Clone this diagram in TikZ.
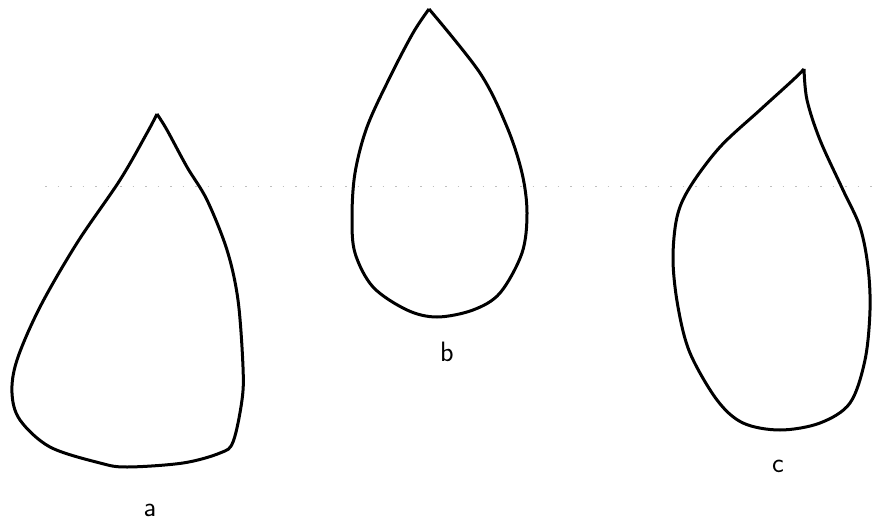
\documentclass[tikz,border=0pt]{standalone}
\usepackage{tikz}

\begin{document}
\begin{tikzpicture}[x=1pt,y=-1pt,line join=round,
  drop/.style={line width=3pt},
  lbl/.style={font=\fontsize{28}{32}\sffamily}]
  \useasboundingbox (0,0) rectangle (874,529);
  % linia de referencia (puntejada)
  \draw[gray!50,line width=0.7pt,dash pattern=on 1.5pt off 11pt] (45,186) -- (874,186);
  % Gota a
  \draw[drop] plot[smooth,tension=0.55] coordinates {(157,114) (147,133) (120,180) (77,243) (40,307) (17,360)
    (12,393) (20,420) (50,447) (100,463) (127,467) (183,463) (220,453) (233,442)
    (242,400) (243,367) (238,300) (227,250) (207,200) (187,167) (167,130) (157,114)};
  % Gota b
  \draw[drop] plot[smooth,tension=0.55] coordinates {(429,9) (480,73) (507,127) (522,173) (527,213)
    (522,253) (500,293) (473,310) (437,317) (407,310) (373,287) (355,253) (352,217)
    (355,173) (367,127) (390,77) (413,33) (429,9)};
  % Gota c
  \draw[drop] plot[smooth,tension=0.55] coordinates {(804,69) (807,100) (820,140) (843,190) (860,227)
    (868,267) (870,310) (865,360) (850,403) (820,423) (780,430) (743,423) (717,400)
    (690,353) (678,307) (673,260) (677,217) (690,187) (720,147) (760,110) (793,80) (804,69)};
  \node[lbl] (la) at (150,510) {a};
  \node[lbl] (lb) at (447,352) {b};
  \node[lbl] (lc) at (778,466) {c};
\end{tikzpicture}
\end{document}
